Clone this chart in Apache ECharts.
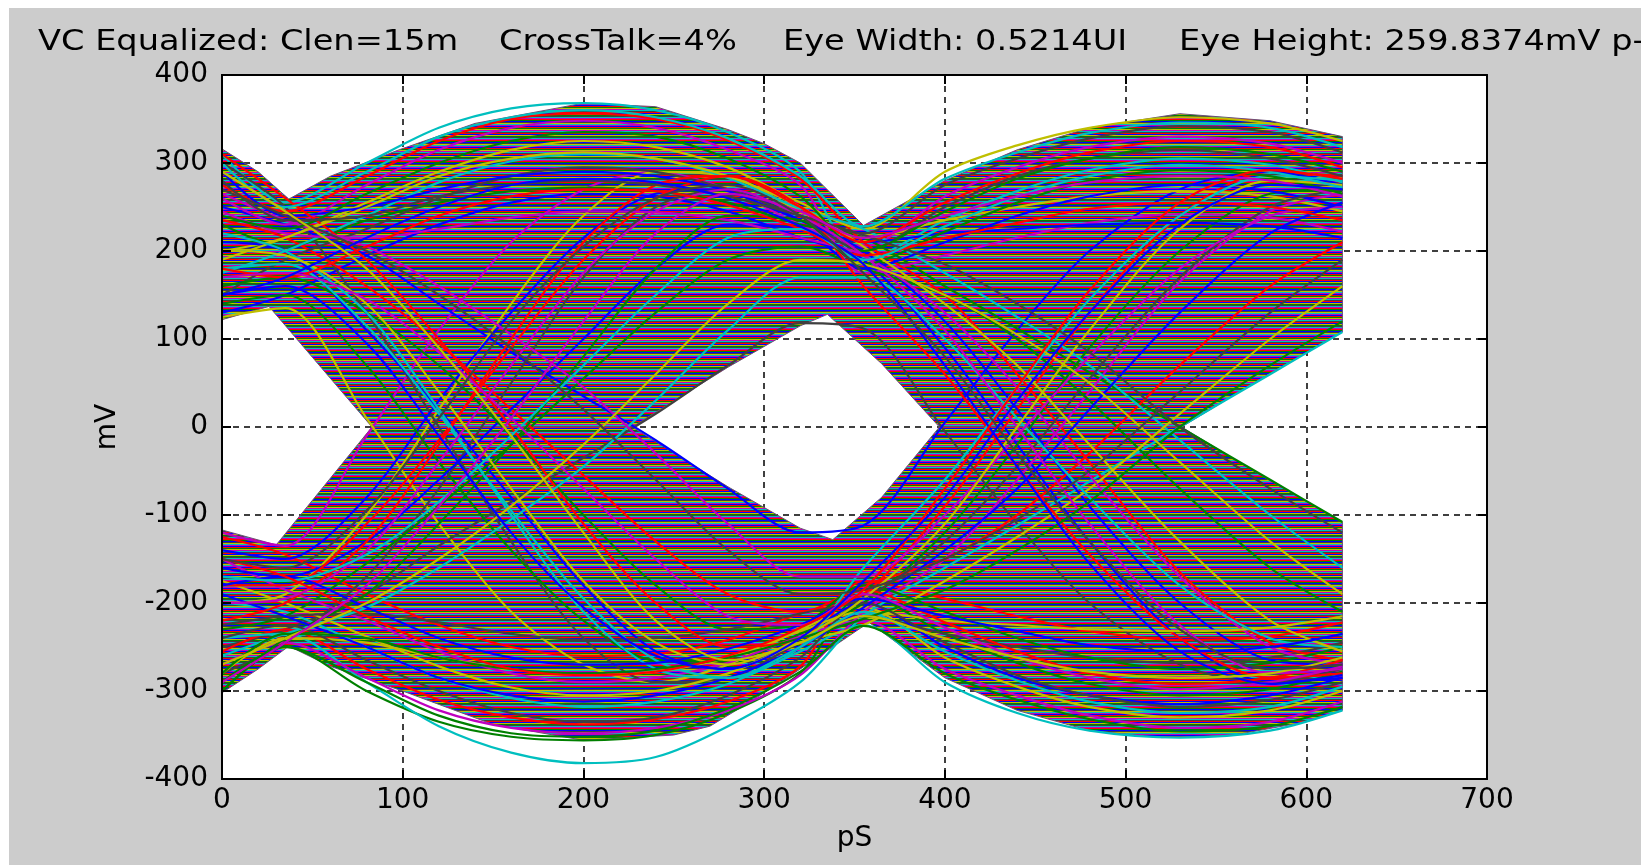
<!DOCTYPE html>
<html><head><meta charset="utf-8">
<script src="https://cdn.jsdelivr.net/npm/echarts@6/dist/echarts.min.js"></script>
<style>
html,body{margin:0;padding:0;background:#fff;overflow:hidden;}
#bg{position:absolute;left:9px;top:8px;width:1632px;height:857px;background:#cccccc;}
#chart{position:absolute;left:0;top:0;width:1652px;height:865px;}
#clip{position:absolute;left:1641px;top:0;width:11px;height:865px;background:#fff;}
</style></head><body>
<div id="bg"></div><div id="chart"></div><div id="clip"></div>
<script>
// ---------- data ----------
const titleParts = ['VC Equalized: Clen=15m', 'CrossTalk=4%', 'Eye Width: 0.5214UI', 'Eye Height: 259.8374mV p-'];
const xAxisName = 'pS';
const yAxisName = 'mV';
const timePs = [0, 35, 80, 120, 160, 200, 240, 280, 320, 355, 400, 440, 480, 530, 580, 620];

// traces grouped by bit pattern (mV at each timePs)
const bits111 = [
  [310,255,300,340,362,368,360,335,290, 190,235,268,292,305,298,278],
  [260,230,275,315,340,348,340,315,275, 175,195,215,232,242,238,222],
  [200,215,255,290,315,325,318,295,255, 225,290,320,340,352,345,325],
  [150,190,225,260,285,295,290,270,240, 220,275,305,328,342,335,312],
  [290,240,250,270,285,290,285,268,235, 210,220,225,230,232,228,215],
  [240,225,265,300,325,335,330,305,262, 200,245,282,305,318,310,290],
  [180,170,205,240,262,270,268,252,225, 195,215,232,248,255,250,235],
  [300,250,290,330,352,360,352,328,285, 228,282,312,334,346,340,318]
];
const bits110 = [
  [130,150,195,230,255,265,262,245,215, 190,90,-20,-130,-240,-290,-285],
  [230,205,235,255,268,272,268,255,230, 215,160,112,62,0,-60,-108],
  [275,245,285,325,350,356,350,326,282, 210,150,60,-40,-165,-245,-265],
  [175,200,240,278,302,310,305,283,248, 225,175,125,70,-15,-100,-160],
  [245,220,215,225,238,245,244,235,215, 195,130,45,-55,-170,-250,-270],
  [190,215,250,285,305,312,305,285,250, 205,140,70,-20,-130,-220,-255],
  [280,235,240,262,275,280,275,262,240, 218,185,140,85,0,-70,-120],
  [150,170,215,250,275,282,278,260,228, 185,70,-45,-155,-255,-292,-282]
];
const bits011 = [
  [-120,-135,-10,110,210,270,290,270,230, 205,262,295,318,330,322,300],
  [-200,-190,-100,20,140,240,290,285,245, 215,235,250,262,268,262,245],
  [-280,-245,-170,-70,50,170,250,270,240, 200,250,285,305,315,305,285],
  [-160,-170,-130,-60,20,100,180,230,225, 180,210,240,262,275,268,250],
  [-300,-240,-190,-110,-20,80,180,240,235, 185,222,255,280,292,285,265],
  [-220,-200,-130,-20,100,210,275,285,250, 210,255,288,312,325,318,295],
  [-170,-175,-145,-85,-10,70,150,215,225, 190,228,262,285,298,290,272],
  [-290,-245,-180,-90,10,120,220,265,245, 215,240,262,278,285,280,262]
];
const bits010 = [
  [-250,-230,-190,-135,-85,-35,15,70,118, 112,-5,-110,-200,-270,-290,-275],
  [-140,-150,-80,30,130,215,265,270,235, 200,120,20,-90,-200,-265,-270],
  [-230,-215,-155,-90,-20,55,130,190,205, 180,150,100,30,-70,-160,-210],
  [-180,-180,-110,-15,90,190,260,285,250, 160,60,-45,-145,-240,-285,-280],
  [-260,-235,-205,-160,-105,-45,30,110,170, 170,100,10,-80,-180,-240,-250],
  [-200,-195,-140,-40,70,175,245,270,240, 195,110,0,-110,-225,-280,-275],
  [-270,-240,-200,-150,-90,-20,60,140,190, 185,150,105,50,-40,-130,-190],
  [-150,-160,-95,10,120,205,260,275,240, 175,80,-30,-130,-230,-275,-270]
];
const bits000 = [
  [-300,-250,-300,-335,-352,-356,-350,-325,-280, -190,-235,-268,-292,-305,-298,-278],
  [-255,-230,-275,-310,-330,-338,-332,-312,-272, -175,-195,-215,-232,-242,-238,-222],
  [-200,-210,-250,-285,-308,-318,-312,-292,-255, -225,-290,-325,-345,-353,-345,-322],
  [-150,-185,-220,-255,-280,-290,-285,-268,-238, -220,-275,-305,-328,-342,-335,-312],
  [-280,-240,-245,-262,-275,-282,-278,-262,-232, -210,-220,-225,-230,-232,-228,-215],
  [-240,-225,-265,-300,-325,-335,-330,-305,-262, -200,-245,-282,-305,-318,-310,-290],
  [-180,-170,-205,-240,-262,-270,-268,-252,-225, -195,-215,-232,-248,-255,-250,-235],
  [-290,-250,-290,-328,-348,-352,-345,-320,-278, -226,-280,-310,-332,-346,-340,-318]
];
const bits001 = [
  [-125,-145,-190,-225,-250,-260,-258,-242,-212, -190,-90,20,130,240,290,285],
  [-240,-235,-290,-340,-370,-382,-375,-340,-290, -215,-160,-112,-62,0,60,108],
  [-270,-245,-285,-322,-342,-348,-342,-322,-282, -210,-150,-60,40,165,245,265],
  [-175,-200,-238,-272,-296,-305,-300,-280,-245, -225,-175,-125,-70,15,100,160],
  [-225,-215,-212,-222,-235,-242,-240,-230,-212, -195,-130,-45,55,170,250,270],
  [-190,-215,-250,-285,-305,-312,-305,-285,-250, -205,-140,-70,20,130,220,255],
  [-280,-235,-240,-262,-275,-280,-275,-262,-240, -218,-185,-140,-85,0,70,120],
  [-150,-170,-215,-250,-275,-282,-278,-260,-228, -185,-70,45,155,255,292,282]
];
const bits100 = [
  [125,135,10,-110,-210,-270,-290,-270,-230, -205,-262,-295,-318,-330,-322,-300],
  [300,250,130,0,-130,-240,-290,-285,-245, -215,-235,-250,-262,-268,-262,-245],
  [210,200,110,20,-80,-180,-255,-275,-240, -200,-250,-285,-305,-315,-305,-285],
  [160,170,130,70,-10,-100,-180,-230,-225, -180,-210,-240,-262,-275,-268,-250],
  [310,260,190,100,0,-110,-200,-250,-240, -185,-222,-255,-280,-292,-285,-265],
  [220,200,130,20,-100,-210,-275,-285,-250, -210,-255,-288,-312,-325,-318,-295],
  [170,175,145,85,10,-70,-150,-215,-225, -190,-228,-262,-285,-298,-290,-272],
  [290,245,180,90,-10,-120,-220,-265,-245, -215,-240,-262,-278,-285,-280,-262]
];
const bits101 = [
  [250,230,195,140,85,35,-15,-70,-120, -112,5,110,200,270,290,275],
  [140,150,70,-40,-140,-220,-265,-265,-235, -200,-120,-20,90,200,265,270],
  [235,215,160,95,20,-55,-130,-190,-210, -180,-150,-100,-30,70,160,210],
  [180,185,115,15,-95,-195,-265,-285,-250, -160,-60,45,145,240,285,280],
  [265,235,205,160,105,45,-30,-110,-170, -170,-100,-10,80,180,240,250],
  [200,195,140,40,-70,-175,-245,-270,-240, -195,-110,0,110,225,280,275],
  [270,240,200,150,90,20,-60,-140,-190, -185,-150,-105,-50,40,130,190],
  [150,160,95,-10,-120,-205,-260,-275,-240, -175,-80,30,130,230,275,270]
];

// outline of the dense trace mass ([ps, mV])
const upperOuter = [[0,316],[20,290],[37,259],[60,285],[98,315],[140,345],[200,368],[240,364],[280,338],[300,322],[320,300],[355,229],[400,280],[440,315],[480,340],[530,356],[580,348],[620,330]];
const upperInner = [[0,122],[26,137],[83,0],[227,0],[280,68],[320,115],[335,128],[365,72],[397,0],[531,0],[575,55],[620,108]];
const lowerOuter = [[0,-302],[20,-275],[37,-249],[60,-272],[100,-300],[150,-338],[200,-356],[250,-350],[270,-340],[291,-314],[320,-275],[358,-222],[400,-285],[440,-322],[480,-345],[520,-353],[560,-350],[600,-335],[620,-322]];
const lowerInner = [[0,-117],[30,-134],[83,0],[227,0],[280,-68],[320,-115],[338,-128],[365,-80],[397,0],[531,0],[575,-55],[620,-108]];

// ---------- styling ----------
const palette = ['#0000ff','#008000','#ff0000','#00bfbf','#bf00bf','#bfbf00','#404040'];
const stripeOrder = ['#0000ff','#ff0000','#008000','#bfbf00','#bf00bf','#00bfbf','#404040','#ff0000','#0000ff','#bfbf00','#008000','#404040','#00bfbf','#bf00bf','#ff0000','#008000','#0000ff','#404040','#bfbf00','#00bfbf','#bf00bf'];
const FONT = 'DejaVu Sans';

// texture standing for the thousands of overlapping traces
const tile = document.createElement('canvas');
tile.width = 6; tile.height = stripeOrder.length;
const tctx = tile.getContext('2d');
stripeOrder.forEach((c, i) => { tctx.fillStyle = c; tctx.fillRect(0, i, 6, 1); });
const BAND_TEXTURE = {image: tile, repeat: 'repeat'};

const chart = echarts.init(document.getElementById('chart'), null, {renderer:'canvas'});

function polySeries(points, fill, stroke, z){
  return {
    type:'custom', xAxisIndex:0, yAxisIndex:0, silent:true, z:z, animation:false,
    data:[[0,0]],
    renderItem:function(params, api){
      const pts = points.map(p => api.coord(p));
      return {type:'polygon', shape:{points:pts}, style:{fill:fill, stroke:stroke, lineWidth:stroke ? 1 : 0}};
    }
  };
}

const groups = [bits110, bits000, bits001, bits111, bits011, bits100, bits010, bits101];
const series = [
  polySeries(upperOuter.concat(upperInner.slice().reverse()), BAND_TEXTURE, '#6a4f78', 1),
  polySeries(lowerOuter.concat(lowerInner.slice().reverse()), BAND_TEXTURE, '#6a4f78', 1)
];
let k = 0;
const maxLen = Math.max(...groups.map(g => g.length));
for (let i = 0; i < maxLen; i++) {
  groups.forEach(g => {
    if (!g[i]) return;
    const tr = g[i];
    series.push({
      type:'line', xAxisIndex:0, yAxisIndex:0, silent:true, animation:false,
      symbol:'none', smooth:0.3, z:3,
      data: timePs.map((t, j) => [t, tr[j]]),
      lineStyle:{width:2.2, color: palette[k % palette.length]}
    });
    k++;
  });
}

const boxAxis = {
  axisLine:{show:true, onZero:false, lineStyle:{color:'#000', width:2}},
  axisTick:{show:true, inside:true, length:9, lineStyle:{color:'#000', width:2}},
  axisLabel:{show:false}, splitLine:{show:false}, z:10
};

const titleX = [38, 499, 783, 1179];
const graphic = titleParts.map((t, i) => ({
  type:'text', x:titleX[i], y:43, scaleX:1.2, silent:true, z:20,
  style:{text:t, x:0, y:0, font:'28px "' + FONT + '"', fill:'#000', verticalAlign:'middle', align:'left'}
}));

chart.setOption({
  backgroundColor:'transparent',
  animation:false,
  color: palette,
  grid:{left:222, top:75, width:1265, height:704, show:true, backgroundColor:'#ffffff', borderWidth:0},
  graphic: graphic,
  xAxis:[
    {type:'value', position:'bottom', min:0, max:700, interval:100,
     axisLine:{show:true, onZero:false, lineStyle:{color:'#000', width:2}},
     axisTick:{show:true, inside:true, length:9, lineStyle:{color:'#000', width:2}},
     axisLabel:{color:'#000', fontFamily:FONT, fontSize:28, margin:8},
     splitLine:{show:true, lineStyle:{color:'#000', width:1.5, type:[6,5]}},
     name:xAxisName, nameLocation:'middle', nameGap:46,
     nameTextStyle:{color:'#000', fontFamily:FONT, fontSize:28}},
    Object.assign({type:'value', position:'top', min:0, max:700, interval:100}, boxAxis),
    Object.assign({type:'value', position:'bottom', min:0, max:700, interval:100}, boxAxis)
  ],
  yAxis:[
    {type:'value', position:'left', min:-400, max:400, interval:100,
     axisLine:{show:true, onZero:false, lineStyle:{color:'#000', width:2}},
     axisTick:{show:true, inside:true, length:9, lineStyle:{color:'#000', width:2}},
     axisLabel:{color:'#000', fontFamily:FONT, fontSize:28, margin:14},
     splitLine:{show:true, lineStyle:{color:'#000', width:1.5, type:[6,5]}},
     name:yAxisName, nameLocation:'middle', nameGap:100, nameRotate:90,
     nameTextStyle:{color:'#000', fontFamily:FONT, fontSize:28}},
    Object.assign({type:'value', position:'right', min:-400, max:400, interval:100}, boxAxis),
    Object.assign({type:'value', position:'left', min:-400, max:400, interval:100}, boxAxis)
  ],
  series: series
});
</script></body></html>
